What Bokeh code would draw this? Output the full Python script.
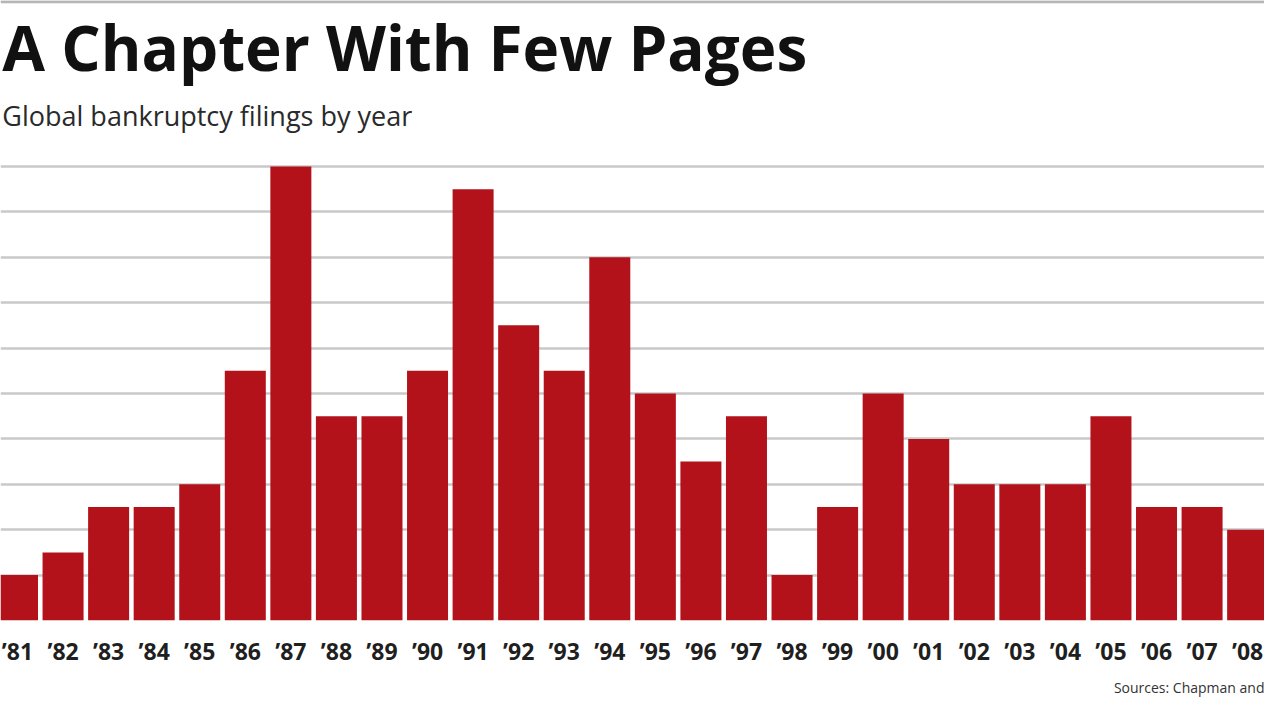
from bokeh.plotting import figure
from bokeh.models import Range1d, FixedTicker, Grid, Span, Label, Title
from bokeh.embed import file_html
from bokeh.resources import INLINE

# ---- data ----
years = ["’81", "’82", "’83", "’84", "’85", "’86", "’87", "’88", "’89", "’90",
         "’91", "’92", "’93", "’94", "’95", "’96", "’97", "’98", "’99", "’00",
         "’01", "’02", "’03", "’04", "’05", "’06", "’07", "’08"]
filings = [2, 3, 5, 5, 6, 11, 20, 9, 9, 11,
           19, 13, 11, 16, 10, 7, 9, 2, 5, 10,
           8, 6, 6, 6, 9, 5, 5, 4]
grid_ticks = [2, 4, 6, 8, 10, 12, 14, 16, 18, 20]

title_text = "A Chapter With Few Pages"
subtitle_text = "Global bankruptcy filings by year"
source_text = "Sources: Chapman and"

BAR = "#b3121b"
FONT = "Open Sans"

idx = list(range(len(years)))

X0 = -0.373
X1 = 27.37
p = figure(width=1264, height=704, output_backend="svg", toolbar_location=None,
           x_range=Range1d(X0, X1), y_range=Range1d(0, 27.31),
           y_axis_location=None, min_border_left=0, min_border_right=0,
           min_border_top=0, min_border_bottom=84)
p.outline_line_color = None
p.background_fill_color = "white"
p.border_fill_color = "white"
p.xgrid.visible = False
for g in p.ygrid:
    g.visible = False

p.add_layout(Grid(dimension=1, ticker=FixedTicker(ticks=grid_ticks),
                  grid_line_color="#c9c9c9", grid_line_width=2.5))

p.vbar(x=idx, top=filings, width=0.9, bottom=0, fill_color=BAR, line_color=None)

ax = p.xaxis[0]
ax.ticker = FixedTicker(ticks=idx)
ax.major_label_overrides = {i: y for i, y in zip(idx, years)}
ax.axis_line_color = None
ax.major_tick_line_color = None
ax.minor_tick_line_color = None
ax.major_tick_in = 0
ax.major_tick_out = 0
ax.major_label_standoff = 14
ax.major_label_text_font = FONT
ax.major_label_text_font_size = "23px"
ax.major_label_text_font_style = "bold"
ax.major_label_text_color = "#1f1f1f"

src = Title(text=source_text, align="right", text_font=FONT, text_font_size="14px",
            text_font_style="normal", text_color="#333333", standoff=12)
p.add_layout(src, "below")

# top rule
p.add_layout(Span(location=27.25, dimension="width", line_color="#b5b5b5", line_width=3))

p.add_layout(Label(x=X0 + 0.04, y=25.24, text=title_text, text_align="left",
                   text_baseline="alphabetic", text_font=FONT, text_font_style="bold",
                   text_font_size="62px", text_color="#111111"))
p.add_layout(Label(x=X0 + 0.04, y=22.25, text=subtitle_text, text_align="left",
                   text_baseline="alphabetic", text_font=FONT,
                   text_font_size="27px", text_color="#2a2a2a"))

open("out.html", "w").write(file_html(p, INLINE))
